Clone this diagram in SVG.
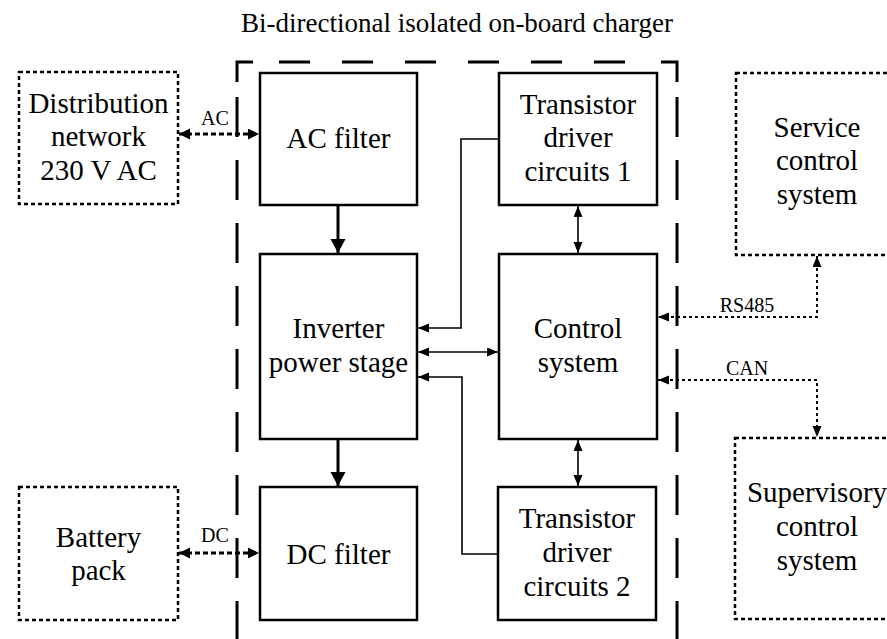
<svg xmlns="http://www.w3.org/2000/svg" width="887" height="639" viewBox="0 0 887 639">
<style>
text{font-family:"Liberation Serif","Times New Roman",serif;fill:#000;text-anchor:middle}
.t{font-size:29px}
.s{font-size:20px}
.box{fill:#fff;stroke:#000;stroke-width:2.5}
.dot{fill:none;stroke:#000;stroke-width:2.5;stroke-dasharray:4 3}
.bnd{fill:none;stroke:#000;stroke-width:3}
.thick{fill:none;stroke:#000;stroke-width:3}
.thin{fill:none;stroke:#000;stroke-width:1.6}
.dl{fill:none;stroke:#000;stroke-width:3.2;stroke-dasharray:5 3}
.dd{fill:none;stroke:#000;stroke-width:2;stroke-dasharray:3 3}
</style>
<defs>
<marker id="mT" markerUnits="userSpaceOnUse" markerWidth="16" markerHeight="16" refX="14" refY="7.5" orient="auto-start-reverse"><path d="M0,0 L14,7.5 L0,15 z" fill="#000"/></marker>
<marker id="mS" markerUnits="userSpaceOnUse" markerWidth="12" markerHeight="10" refX="11" refY="4.5" orient="auto-start-reverse"><path d="M0,0 L11,4.5 L0,9 z" fill="#000"/></marker>
<marker id="mD" markerUnits="userSpaceOnUse" markerWidth="13" markerHeight="13" refX="11" refY="5.5" orient="auto-start-reverse"><path d="M0,0 L11,5.5 L0,11 z" fill="#000"/></marker>
</defs>
<rect width="887" height="639" fill="#fff"/>

<g id="boundary">
<text x="457" y="32" style="font-size:27px">Bi-directional isolated on-board charger</text>
<path class="bnd" d="M237,82 V62 H253"/>
<path class="bnd" d="M661,62 H677 V82"/>
<path class="bnd" d="M279,62 H640" stroke-dasharray="31 32"/>
<path class="bnd" d="M237,97 V645" stroke-dasharray="40 23"/>
<path class="bnd" d="M677,97 V645" stroke-dasharray="40 23"/>
</g>

<g id="distribution">
<rect class="dot" x="19" y="72" width="159" height="132"/>
<text class="t" x="98.5" y="113">Distribution</text>
<text class="t" x="98.5" y="146">network</text>
<text class="t" x="98.5" y="180">230 V AC</text>
</g>
<g id="battery">
<rect class="dot" x="19" y="487" width="159" height="133"/>
<text class="t" x="98.5" y="547">Battery</text>
<text class="t" x="98.5" y="580">pack</text>
</g>
<g id="acfilter">
<rect class="box" x="260" y="73" width="157" height="132"/>
<text class="t" x="338.5" y="148">AC filter</text>
</g>
<g id="inverter">
<rect class="box" x="260" y="254" width="157" height="185"/>
<text class="t" x="338.5" y="338">Inverter</text>
<text class="t" x="338.5" y="372">power stage</text>
</g>
<g id="dcfilter">
<rect class="box" x="260" y="487" width="157" height="133"/>
<text class="t" x="338.5" y="564">DC filter</text>
</g>
<g id="driver1">
<rect class="box" x="499" y="73" width="158" height="132"/>
<text class="t" x="578" y="114">Transistor</text>
<text class="t" x="578" y="147">driver</text>
<text class="t" x="578" y="181">circuits 1</text>
</g>
<g id="control">
<rect class="box" x="499" y="254" width="158" height="185"/>
<text class="t" x="578" y="338">Control</text>
<text class="t" x="578" y="372">system</text>
</g>
<g id="driver2">
<rect class="box" x="498" y="487" width="158" height="133"/>
<text class="t" x="577" y="528">Transistor</text>
<text class="t" x="577" y="562">driver</text>
<text class="t" x="577" y="596">circuits 2</text>
</g>
<g id="service">
<rect class="dot" x="736" y="73" width="162" height="182"/>
<text class="t" x="817" y="137">Service</text>
<text class="t" x="817" y="170">control</text>
<text class="t" x="817" y="204">system</text>
</g>
<g id="supervisory">
<rect class="dot" x="735" y="438" width="163" height="181"/>
<text class="t" x="817" y="502">Supervisory</text>
<text class="t" x="817" y="536">control</text>
<text class="t" x="817" y="570">system</text>
</g>

<g id="connectors">
<path class="dl" d="M179,134 H259" marker-start="url(#mD)" marker-end="url(#mD)"/>
<text class="s" x="215" y="125">AC</text>
<path class="dl" d="M179,553 H259" marker-start="url(#mD)" marker-end="url(#mD)"/>
<text class="s" x="215" y="542">DC</text>
<path class="thick" d="M338,205 V253" marker-end="url(#mT)"/>
<path class="thick" d="M338,439 V486" marker-end="url(#mT)"/>
<path class="thin" d="M578,206 V253" marker-start="url(#mS)" marker-end="url(#mS)"/>
<path class="thin" d="M578,440 V486" marker-start="url(#mS)" marker-end="url(#mS)"/>
<path class="thin" d="M499,139 H461 V328 H418" marker-end="url(#mS)"/>
<path class="thin" d="M418,352 H498" marker-start="url(#mS)" marker-end="url(#mS)"/>
<path class="thin" d="M498,554 H462 V377 H418" marker-end="url(#mS)"/>
<path class="dd" d="M817,256 V317 H658" marker-start="url(#mS)" marker-end="url(#mS)"/>
<text class="s" x="747" y="312">RS485</text>
<path class="dd" d="M658,380 H817 V437" marker-start="url(#mS)" marker-end="url(#mS)"/>
<text class="s" x="747" y="375">CAN</text>
</g>
</svg>
